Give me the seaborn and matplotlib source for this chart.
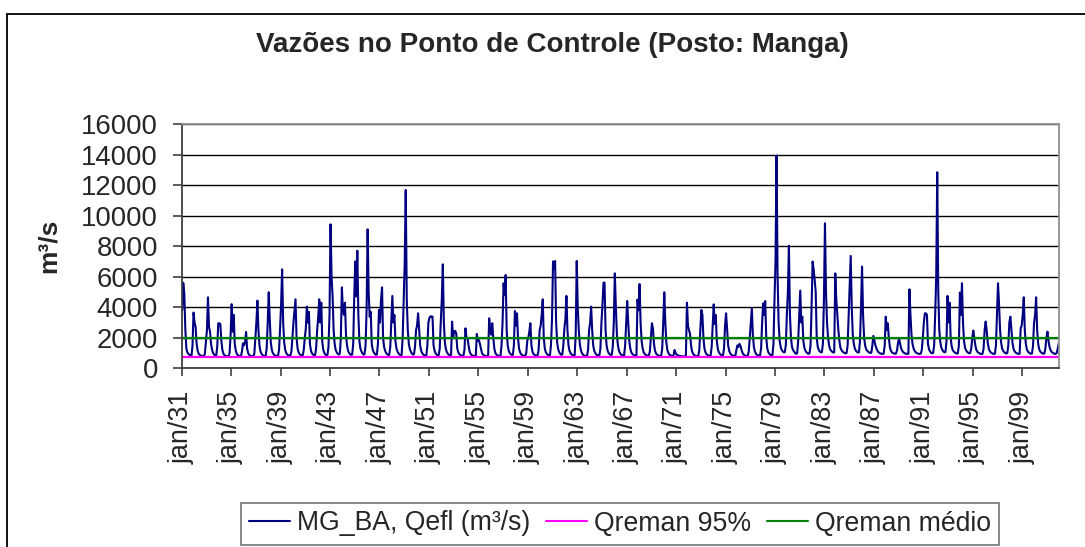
import numpy as np
import pandas as pd
import matplotlib
matplotlib.use("Agg")
import matplotlib.pyplot as plt
import seaborn as sns
from matplotlib.lines import Line2D

# ---------------- data (monthly flows, m³/s, Jan..Dec per row) ----------------
q_1931_1940 = [
    3800, 5600, 4900, 2600, 1300, 1050, 950, 880, 830, 820, 1500, 3650,   # 1931
    3000, 2700, 1600, 1150, 950, 880, 840, 810, 790, 800, 950, 1700,      # 1932
    2500, 4650, 2700, 2400, 1600, 1200, 1000, 900, 850, 830, 1400, 2950,  # 1933
    2950, 2900, 1800, 1200, 950, 870, 820, 790, 780, 800, 1000, 2200,     # 1934
    4200, 2400, 3500, 1600, 1150, 950, 870, 820, 800, 800, 1100, 1640,    # 1935
    1500, 1700, 2380, 1300, 1000, 880, 830, 800, 780, 790, 950, 2000,     # 1936
    3000, 4430, 2500, 1500, 1100, 950, 870, 820, 800, 820, 1300, 3000,    # 1937
    4980, 3200, 1700, 1200, 1000, 900, 850, 810, 800, 820, 1200, 2600,    # 1938
    4200, 6480, 3000, 1700, 1200, 1000, 900, 850, 820, 830, 1100, 2000,   # 1939
    3000, 3800, 4520, 2000, 1300, 1050, 930, 870, 830, 840, 1200, 2000,   # 1940
]
q_1941_1950 = [
    2600, 4040, 3000, 3700, 1600, 1150, 980, 900, 850, 860, 1300, 2500,   # 1941
    3300, 4520, 3000, 4300, 1700, 1200, 1000, 900, 850, 880, 1400, 3500,  # 1942
    9430, 6000, 4700, 2500, 1600, 1200, 1050, 950, 900, 950, 2000, 5300,  # 1943
    3820, 3500, 4300, 2200, 1500, 1150, 1000, 920, 870, 900, 1600, 4700,  # 1944
    7000, 4700, 7700, 3500, 1800, 1300, 1100, 980, 900, 920, 1500, 3800,  # 1945
    9100, 5000, 3380, 3700, 1600, 1200, 1050, 950, 880, 900, 1600, 3820,  # 1946
    3000, 4500, 5300, 2000, 1400, 1150, 1000, 920, 870, 880, 1400, 3000,  # 1947
    4740, 3000, 3490, 1800, 1300, 1100, 980, 900, 850, 870, 2000, 4500,   # 1948
    6900, 11680, 4500, 2500, 1600, 1250, 1080, 970, 900, 920, 1400, 2500, # 1949
    2800, 3600, 2500, 1500, 1150, 1000, 900, 850, 820, 830, 1500, 3000,   # 1950
]
q_1951_1960 = [
    3300, 3400, 3400, 3380, 1500, 1150, 980, 900, 850, 860, 1300, 3000,   # 1951
    4500, 6810, 3000, 1700, 1250, 1050, 950, 880, 840, 860, 3060, 2000,   # 1952
    2400, 2450, 2300, 1300, 1050, 930, 870, 830, 810, 830, 1200, 2620,    # 1953
    2000, 1960, 1500, 1100, 950, 870, 830, 800, 790, 810, 2250, 1800,     # 1954
    1850, 1600, 1300, 1000, 900, 850, 820, 800, 790, 810, 3275, 2500,     # 1955
    2200, 2950, 2000, 1300, 1000, 900, 850, 820, 800, 820, 1500, 3000,    # 1956
    5570, 4800, 6110, 2500, 1500, 1150, 1000, 920, 870, 880, 1500, 3750,  # 1957
    2800, 3600, 2000, 1300, 1050, 930, 870, 830, 810, 820, 1000, 1800,    # 1958
    2000, 2400, 2950, 1500, 1100, 950, 880, 840, 820, 830, 1200, 2500,    # 1959
    2800, 3500, 4520, 2000, 1300, 1050, 950, 880, 840, 850, 1500, 3200,   # 1960
]
q_1961_1970 = [
    7000, 6500, 7030, 3000, 1700, 1250, 1050, 950, 880, 900, 1500, 2600,  # 1961
    3200, 4740, 2500, 1500, 1150, 1000, 900, 860, 830, 850, 2200, 7030,   # 1962
    4000, 2500, 1600, 1200, 1000, 900, 850, 820, 800, 820, 1200, 2500,    # 1963
    3000, 4040, 2500, 1500, 1150, 1000, 900, 860, 830, 850, 1300, 3000,   # 1964
    4200, 5610, 5610, 2500, 1500, 1150, 1000, 920, 870, 880, 1400, 3000,  # 1965
    6220, 4000, 2200, 1500, 1150, 1000, 900, 860, 830, 850, 1500, 3000,   # 1966
    4410, 3000, 1800, 1300, 1050, 940, 880, 840, 820, 850, 4500, 3800,    # 1967
    5520, 3000, 1800, 1300, 1050, 940, 880, 840, 820, 840, 1100, 2000,    # 1968
    2950, 2620, 1600, 1150, 980, 900, 850, 820, 800, 820, 1300, 3000,     # 1969
    4980, 3000, 1700, 1200, 1000, 900, 850, 820, 800, 850, 1200, 1000,    # 1970
]
q_1971_1980 = [
    900, 850, 830, 820, 800, 790, 780, 780, 780, 800, 4300, 2800,         # 1971
    2500, 2250, 1500, 1100, 950, 870, 830, 800, 790, 810, 1200, 2500,     # 1972
    3820, 3500, 2000, 1300, 1050, 930, 870, 830, 810, 830, 1400, 2800,    # 1973
    4190, 2900, 3490, 1800, 1250, 1050, 950, 880, 840, 850, 1300, 2800,   # 1974
    3600, 2500, 1500, 1150, 980, 900, 850, 820, 800, 820, 1200, 1500,     # 1975
    1400, 1600, 1450, 1200, 1000, 900, 850, 820, 800, 820, 1100, 2000,    # 1976
    3000, 3930, 2200, 1400, 1100, 950, 880, 840, 820, 840, 1300, 3000,    # 1977
    4260, 3500, 4410, 2000, 1300, 1050, 950, 880, 840, 860, 1600, 4500,   # 1978
    7000, 13930, 6000, 3000, 1800, 1400, 1200, 1100, 1050, 1050, 1500, 3500,  # 1979
    5000, 8030, 3500, 2000, 1400, 1200, 1100, 1000, 950, 980, 1800, 3500,     # 1980
]
q_1981_1990 = [
    5090, 3000, 3380, 1800, 1350, 1150, 1050, 980, 950, 980, 1500, 4000,      # 1981
    6990, 6500, 5800, 5000, 2000, 1400, 1200, 1100, 1050, 1050, 1600, 4500,   # 1982
    9500, 5000, 3000, 2000, 1500, 1250, 1150, 1080, 1030, 1050, 6220, 4500,   # 1983
    3500, 2510, 1800, 1350, 1200, 1100, 1050, 1000, 980, 1000, 1500, 3500,    # 1984
    5500, 7360, 4000, 2200, 1600, 1300, 1150, 1080, 1030, 1050, 1800, 4000,   # 1985
    6660, 3500, 2000, 1500, 1250, 1150, 1080, 1030, 1000, 1020, 1500, 2120,   # 1986
    1800, 1500, 1300, 1150, 1050, 1000, 970, 950, 940, 960, 1500, 3380,       # 1987
    2500, 2950, 2000, 1400, 1150, 1050, 1000, 970, 950, 970, 1200, 1700,      # 1988
    1940, 1600, 1300, 1150, 1050, 1000, 970, 950, 940, 960, 5170, 3500,       # 1989
    2200, 1600, 1300, 1150, 1050, 1000, 970, 950, 940, 960, 1200, 2000,       # 1990
]
q_1991_2001 = [
    3000, 3600, 3600, 3500, 1600, 1250, 1100, 1020, 980, 1000, 1500, 3500,    # 1991
    6000, 12840, 5000, 2500, 1700, 1350, 1200, 1100, 1050, 1070, 1800, 4740,  # 1992
    3000, 4300, 2000, 1450, 1200, 1100, 1040, 990, 960, 980, 1500, 4960,      # 1993
    3500, 5570, 3000, 1800, 1350, 1180, 1080, 1020, 980, 1000, 1300, 2000,    # 1994
    2470, 2000, 1500, 1200, 1080, 1020, 980, 950, 930, 950, 1300, 2500,       # 1995
    3060, 2500, 1700, 1300, 1120, 1040, 990, 960, 940, 960, 1500, 3500,       # 1996
    5570, 4210, 2500, 1700, 1300, 1150, 1060, 1000, 970, 990, 1500, 3000,     # 1997
    3380, 2500, 1700, 1300, 1120, 1040, 990, 960, 940, 960, 2620, 2800,       # 1998
    3500, 4650, 2500, 1600, 1250, 1100, 1030, 980, 950, 970, 1500, 3000,      # 1999
    3500, 4650, 2500, 1600, 1250, 1100, 1030, 980, 950, 970, 1300, 2000,      # 2000
    2400, 1800, 1400, 1200, 1080, 1020, 980, 950, 940, 1000, 1300, 1640,      # 2001
]
q_reman_95 = 765       # m³/s
q_reman_medio = 2000   # m³/s

tick_labels = ["jan/31", "jan/35", "jan/39", "jan/43", "jan/47", "jan/51",
               "jan/55", "jan/59", "jan/63", "jan/67", "jan/71", "jan/75",
               "jan/79", "jan/83", "jan/87", "jan/91", "jan/95", "jan/99"]

series_names = ["MG_BA, Qefl (m³/s)", "Qreman 95%", "Qreman médio"]
series_colors = ["#000080", "#FF00FF", "#008000"]

title = "Vazões no Ponto de Controle (Posto: Manga)"
ylabel = "m³/s"

# ---------------- build table ----------------
flows = (q_1931_1940 + q_1941_1950 + q_1951_1960 + q_1961_1970 +
         q_1971_1980 + q_1981_1990 + q_1991_2001)
n = len(flows)
df = pd.DataFrame({
    "mes": np.arange(n),
    series_names[0]: flows,
    series_names[1]: [q_reman_95] * n,
    series_names[2]: [q_reman_medio] * n,
})

# ---------------- plot ----------------
sns.set_style("white")
plt.rcParams["font.family"] = ["Liberation Sans", "DejaVu Sans"]

W, H = 1085, 547
fig = plt.figure(figsize=(W / 100, H / 100), dpi=100)
L, R, T, B = 181.7, 1059.3, 124.0, 368.3
ax = fig.add_axes([L / W, 1 - B / H, (R - L) / W, (B - T) / H])

for name, col, lw in zip(series_names, series_colors, [1.5, 1.6, 1.6]):
    sns.lineplot(data=df, x="mes", y=name, color=col, lw=lw, ax=ax,
                 label=name, legend=False)

ax.set_xlim(-0.5, n - 0.5)
ax.set_ylim(0, 16000)
ax.set_yticks(np.arange(0, 16001, 2000))
ax.set_xticks(np.arange(len(tick_labels)) * 48 - 0.5)
ax.set_xticklabels(tick_labels, rotation=90)
ax.set_xlabel("")
ax.set_ylabel("")

ax.yaxis.grid(True, color="black", lw=1.0)
ax.xaxis.grid(False)
ax.set_axisbelow(True)
for side in ["left", "bottom"]:
    ax.spines[side].set_color("#404040")
    ax.spines[side].set_linewidth(1.3)
for side in ["top", "right"]:
    ax.spines[side].set_color("#909090")
    ax.spines[side].set_linewidth(1.3)

ax.tick_params(axis="y", direction="out", length=6.5, width=1.2,
               color="#404040", labelsize=19.8, pad=10.5, left=True)
ax.tick_params(axis="x", direction="out", length=6, width=1.2,
               color="#404040", labelsize=19.4, pad=10, bottom=True)

fig.text(552 / W, 1 - 52 / H, title, ha="center", va="baseline",
         fontsize=20, fontweight="bold")
fig.text(49 / W, 1 - 246 / H, ylabel, ha="center", va="center",
         rotation=90, fontsize=19, fontweight="bold")

handles = [Line2D([], [], color=c, lw=1.5) for c in series_colors]
leg = fig.legend(handles, series_names, loc="center",
                 bbox_to_anchor=(620 / W, 1 - 523.5 / H),
                 bbox_transform=fig.transFigure, ncol=3, fontsize=19.2,
                 frameon=True, fancybox=False, shadow=False,
                 handlelength=1.55, handletextpad=0.25, columnspacing=0.6,
                 borderpad=0.3, borderaxespad=0)
leg.get_frame().set_edgecolor("#505050")
leg.get_frame().set_linewidth(1.2)

# outer chart-area border (left and top edges visible)
bx, by = 7 / W, 1 - 14 / H
fig.add_artist(Line2D([bx, bx], [0, by], color="black", lw=1.3,
                      transform=fig.transFigure))
fig.add_artist(Line2D([bx, 1.0], [by, by], color="black", lw=1.3,
                      transform=fig.transFigure))

fig.savefig("out.png", dpi=100)
